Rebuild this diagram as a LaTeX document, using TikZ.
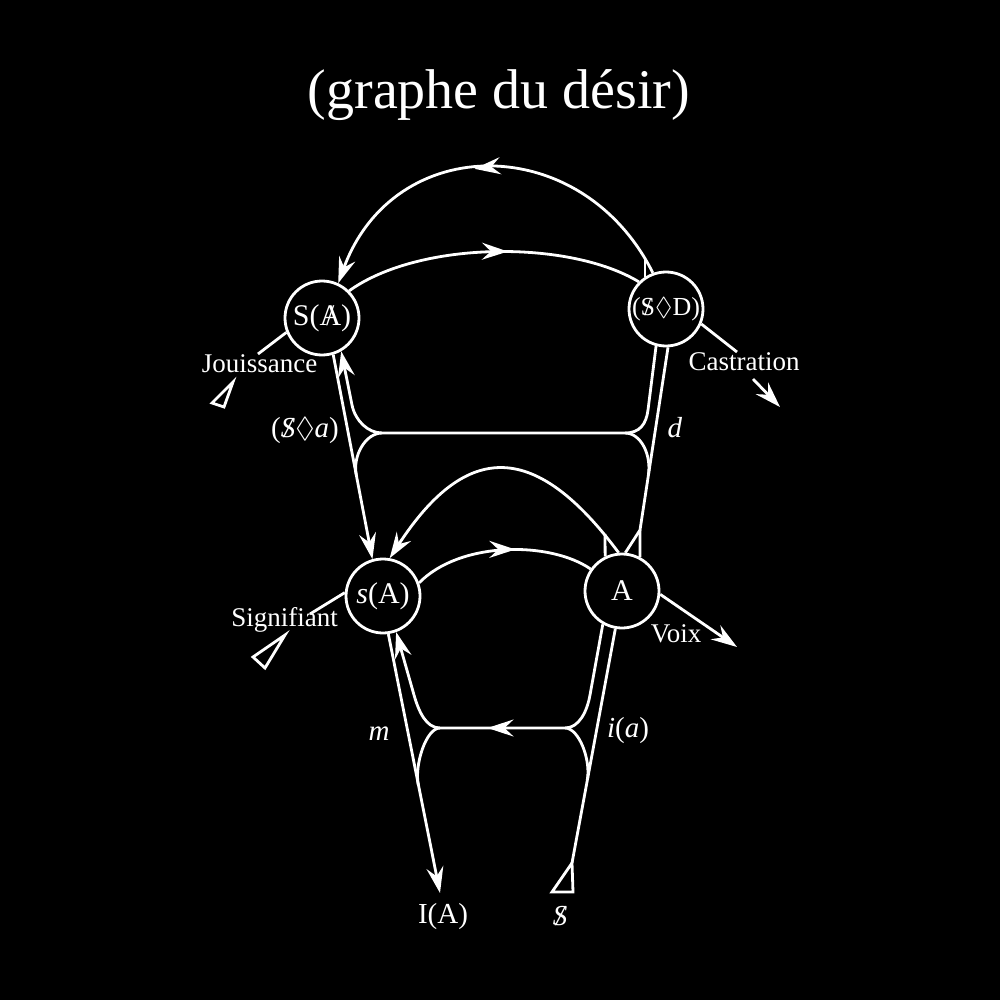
\documentclass[tikz,border=0pt]{standalone}
\usepackage{amssymb}
\usepackage{fontspec}
\setmainfont{Liberation Serif}
\usetikzlibrary{arrows.meta,decorations.markings}
\newcommand{\BarredS}{\ooalign{S\cr\hidewidth/\hidewidth\cr}}
\newcommand{\BarredA}{\ooalign{A\cr\hidewidth/\hidewidth\cr}}
\begin{document}
\begin{tikzpicture}[x=1pt,y=-1pt,
  >={Stealth[length=26pt,width=17pt,inset=9pt]},
  wire/.style={draw=white,line width=2.8pt},
  circ/.style={circle,draw=white,line width=2.8pt,minimum size=74pt,inner sep=0pt,text=white,font=\fontsize{30}{32}\selectfont},
  lbl/.style={text=white,inner sep=0pt,font=\fontsize{27}{30}\selectfont},
  mlbl/.style={text=white,inner sep=0pt,font=\fontsize{29}{31}\selectfont},
  midarrow/.style={postaction={decorate,decoration={markings,mark=at position #1 with {\arrow{>}}}}}
]
\fill[black] (0,0) rectangle (1000,1000);
\useasboundingbox (0,0) rectangle (1000,1000);

% title
\node[text=white,inner sep=0pt,font=\fontsize{56}{62}\selectfont] (title) at (499,95) {(graphe du désir)};

% nodes
\node[circ] (S) at (322,318) {S(\BarredA)};
\node[circ,font=\fontsize{26}{28}\selectfont] (D) at (666,309) {(\BarredS$\lozenge$D)};
\node[circ] (sA) at (383,596) {\textit{s}(A)};
\node[circ] (A) at (622,591) {A};

% labels
\node[lbl] (jou) at (259.5,364) {Jouissance};
\node[lbl] (sig) at (284.5,620) {Signifiant};
\node[lbl] (cas) at (744,362) {Castration};
\node[lbl] (voix) at (676,634) {Voix};
\node[mlbl] (lm) at (379,734) {\textit{m}};
\node[mlbl] (lia) at (628,731) {\textit{i}(\textit{a})};
\node[mlbl] (ld) at (675,428) {\textit{d}};
\node[mlbl] (lsa) at (305,431) {(\textit{\BarredS}$\lozenge$\textit{a})};
\node[mlbl] (IA) at (443,917) {I(A)};
\node[mlbl] (subj) at (560,916) {\textit{\BarredS}};

% coordinates
\coordinate (jstart) at (258,354);
\coordinate (jtri) at (233,382);
\coordinate (sstart) at (310,614);
\coordinate (stri) at (285,635);
\coordinate (cend) at (737,352);
\coordinate (cbeg) at (753,379);
\coordinate (ctip) at (780,407);
\coordinate (vtip) at (737,647);
\coordinate (IAtip) at (440,893);
\coordinate (dtri) at (572,863);

% start triangles
\draw[wire,line join=miter] (212,403) -- (224,407) -- (jtri) -- cycle;
\draw[wire,line join=miter] (253,657) -- (265,668) -- (stri) -- cycle;
\draw[wire,line join=miter] (552,892) -- (573,892) -- (dtri) -- cycle;

% upper chain
\draw[wire] (jstart) -- (S.202);
\draw[wire,midarrow=0.55] (S.45) .. controls (420,240) and (570,240) .. (D.135);
\draw[wire] (D.-23) -- (cend);
\draw[wire,->] (cbeg) -- (ctip);

% big upper arc
\draw[wire,->,midarrow=0.54] (D.110) .. controls (582,131) and (394,131) .. (S.65);
\draw[wire] (645,258) -- (645,277);

% lower chain
\draw[wire] (sstart) -- (sA.175);
\draw[wire,midarrow=0.57] (sA.20) .. controls (460,541) and (550,541) .. (A.145);
\draw[wire,->] (A.-5) -- (vtip);

% lower arc
\draw[wire,->] (A.95) .. controls (537,443) and (468,438) .. (sA.80);
\draw[wire] (605,534) -- (A.116);

% upper bridge
\draw[wire,->] (S.-73) -- (sA.106);
\draw[wire,->] (D.-105) -- (648,410) .. controls (646.2,423.9) and (640,433) .. (625,433)
   -- (382,433) .. controls (368,433) and (355.2,420.7) .. (352,405) -- (S.-60);
\draw[wire] (382,433) .. controls (366,433) and (352.5,455) .. (356.3,475);
\draw[wire] (625,433) .. controls (641,433) and (651.5,455) .. (648.4,475);
\draw[wire] (D.-87) -- (640,530) -- (A.85);
\draw[wire] (640,530) -- (A.62);

% lower bridge
\draw[wire,->] (sA.-82.5) -- (IAtip);
\draw[wire,->] (A.-120) -- (590,695) .. controls (587,711.7) and (579,728) .. (565,728)
   -- (440,728) .. controls (426,728) and (418.7,711.4) .. (414,695) -- (sA.-70);
\draw[wire,midarrow=0.62] (565,728) -- (440,728);
\draw[wire] (440,728) .. controls (426,728) and (414.3,765) .. (418.3,785);
\draw[wire] (565,728) .. controls (579,728) and (591,760) .. (587.3,780);
\draw[wire] (dtri) -- (A.-100);
\end{tikzpicture}
\end{document}
